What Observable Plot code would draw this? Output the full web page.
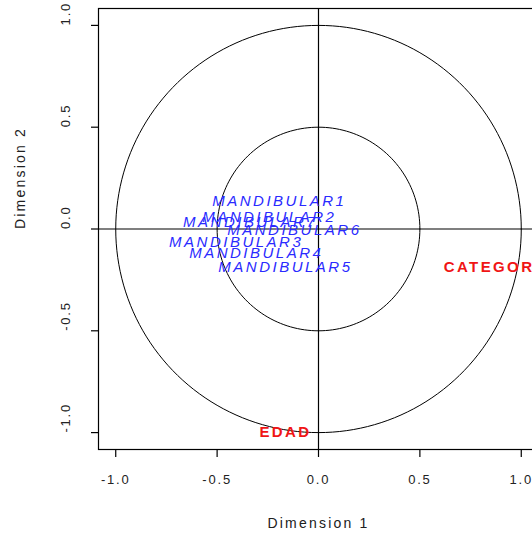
<!DOCTYPE html>
<html>
<head>
<meta charset="utf-8">
<script src="https://cdn.jsdelivr.net/npm/d3@7"></script>
<script src="https://cdn.jsdelivr.net/npm/@observablehq/plot@0.6"></script>
<style>
  html, body { margin: 0; padding: 0; background: #fff; overflow: hidden; }
  #chart { width: 532px; height: 538px; overflow: hidden; }
</style>
</head>
<body>
<div id="chart"></div>
<script>
// Active variable labels (blue)
const mandNames = ["MANDIBULAR1", "MANDIBULAR2", "MANDIBULAR7", "MANDIBULAR6", "MANDIBULAR3", "MANDIBULAR4", "MANDIBULAR5"];
const mandDim1  = [-0.193, -0.243, -0.337, -0.119, -0.406, -0.307, -0.163];
const mandDim2  = [ 0.138,  0.059,  0.034, -0.005, -0.064, -0.118, -0.187];

// Supplementary variable labels (red)
const suppNames = ["CATEGORIA", "EDAD"];
const suppDim1  = [0.89, -0.163];
const suppDim2  = [-0.19, -1.0];

// Reference circles and ticks
const circleRadii = [1, 0.5];
const xTicks = [-1.0, -0.5, 0.0, 0.5, 1.0];
const yTicks = [-1.0, -0.5, 0.0, 0.5, 1.0];
const xLabel = "Dimension 1";
const yLabel = "Dimension 2";

const mand = mandNames.map((t, i) => ({t, x: mandDim1[i], y: mandDim2[i]}));
const supp = suppNames.map((t, i) => ({t, x: suppDim1[i], y: suppDim2[i]}));

const circlePts = [];
for (const r of circleRadii) {
  for (let a = 0; a <= 360; a += 2) {
    const th = a * Math.PI / 180;
    circlePts.push({r, x: r * Math.cos(th), y: r * Math.sin(th)});
  }
}

const fmt = d => d.toFixed(1);
const BLUE = "#2a2aff", RED = "#f01515", TICK = "#222222", TITLE = "#202020";

const chart = Plot.plot({
  width: 532,
  height: 538,
  marginLeft: 98,
  marginRight: -6,
  marginTop: 8,
  marginBottom: 89,
  x: {domain: [-1.085, 1.085], axis: null, label: null},
  y: {domain: [-1.083, 1.083], axis: null, label: null},
  style: {fontFamily: "'Liberation Sans', Arial, sans-serif", fontSize: "13px", background: "#fff", color: "#000"},
  marks: [
    Plot.line(circlePts, {x: "x", y: "y", z: "r", stroke: "#000", strokeWidth: 1}),
    Plot.ruleX([0], {stroke: "#000", strokeWidth: 1.2}),
    Plot.ruleY([0], {stroke: "#000", strokeWidth: 1.2}),
    Plot.frame({stroke: "#000", strokeWidth: 1.2}),
    Plot.axisX({ticks: xTicks, tickSize: 8, tickFormat: () => "", label: null, anchor: "bottom", stroke: "#000", strokeWidth: 1.2}),
    Plot.axisY({ticks: yTicks, tickSize: 7, tickFormat: () => "", label: null, anchor: "left", stroke: "#000", strokeWidth: 1.2}),
    Plot.text(xTicks, {x: d => d, frameAnchor: "bottom", dy: 34, text: fmt, fill: TICK, fontSize: 13}),
    Plot.text(yTicks, {y: d => d, frameAnchor: "left", dx: -33, rotate: -90, text: fmt, fill: TICK, fontSize: 13}),
    Plot.text([xLabel], {frameAnchor: "bottom", dy: 78, fill: TITLE, fontSize: 14}),
    Plot.text([yLabel], {frameAnchor: "left", dx: -78, rotate: -90, fill: TITLE, fontSize: 14}),
    Plot.text(mand, {x: "x", y: "y", text: "t", fill: BLUE, fontSize: 15, fontStyle: "italic"}),
    Plot.text(supp, {x: "x", y: "y", text: "t", fill: RED, fontSize: 15, fontWeight: "bold"})
  ]
});
const spacing = {[BLUE]: "2.5px", [RED]: "2.4px", [TICK]: "1.8px", [TITLE]: "2.2px"};
chart.querySelectorAll("g[fill]").forEach(g => {
  const s = spacing[g.getAttribute("fill")];
  if (s) g.style.letterSpacing = s;
});
document.getElementById("chart").appendChild(chart);
</script>
</body>
</html>
